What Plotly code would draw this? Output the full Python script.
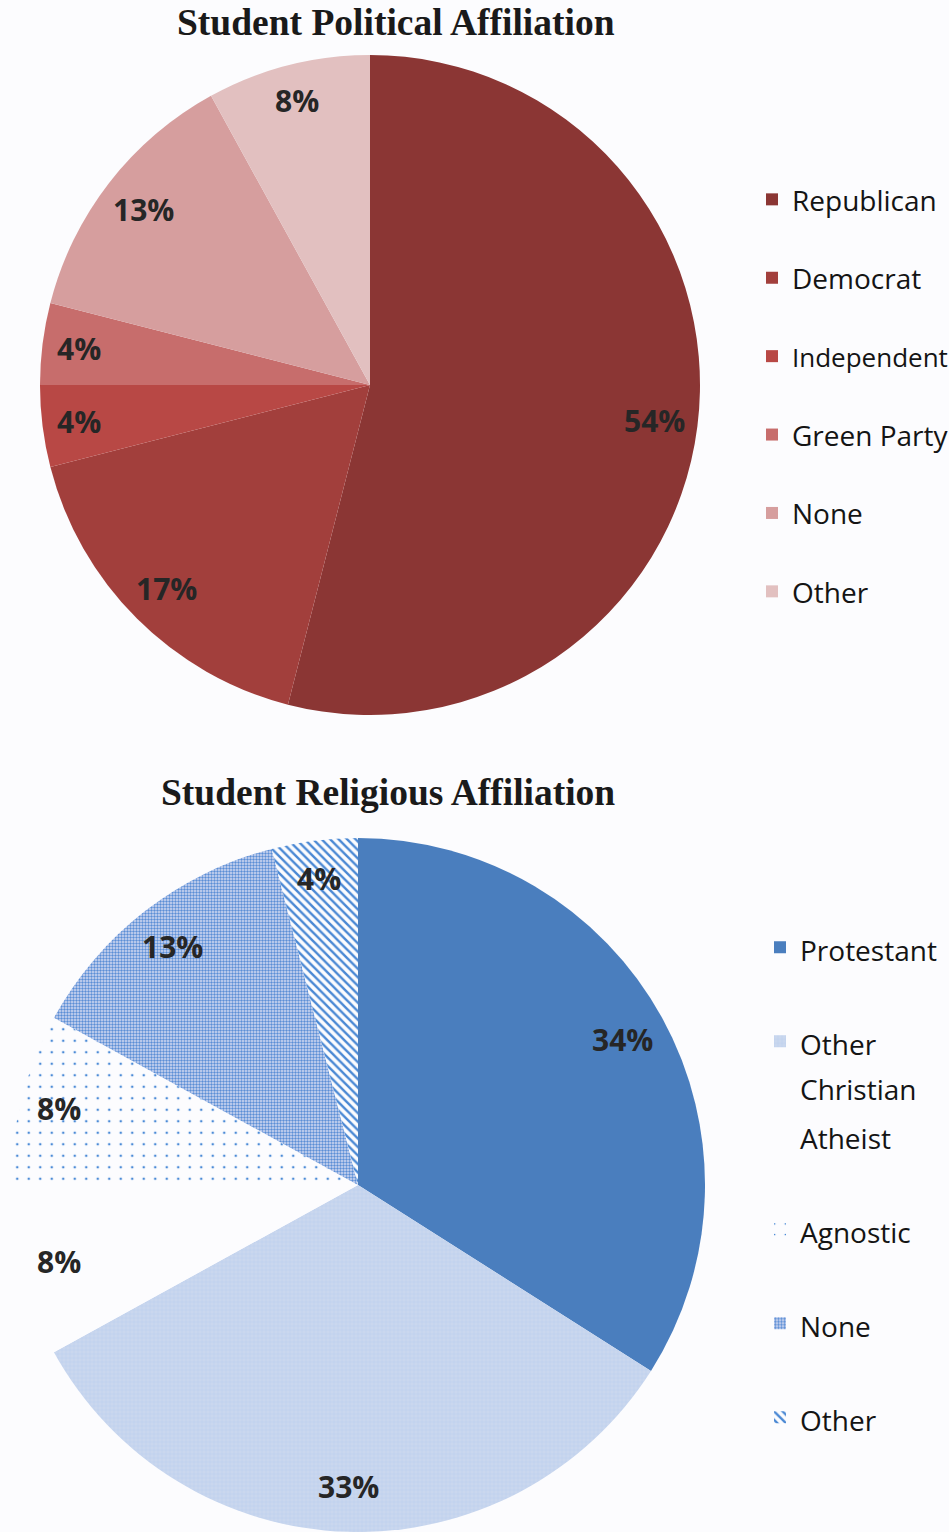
import math
import plotly.graph_objects as go

# Political affiliation of students (percent)
pol_labels = ["Republican", "Democrat", "Independent", "Green Party", "None", "Other"]
pol_values = [54, 17, 4, 4, 13, 8]
pol_colors = ["#8b3634", "#a23f3c", "#b84845", "#c76d6c", "#d69e9e", "#e2c0c0"]

# Religious affiliation of students (percent)
rel_labels = ["Protestant", "Other<br>Christian", "Atheist", "Agnostic", "None", "Other"]
rel_values = [34, 33, 8, 8, 13, 4]
rel_colors = ["#4a7ebe", "#cad7ee", "#fcfcfe", "#fcfcfe", "#8fabdf", "#fcfcfe"]

BG = "#fcfcfe"
W, H = 949, 1532

# pie placement in pixels: (left, right, top, bottom)
POL_BOX = (40, 700, 55, 715)
REL_BOX = (11, 705, 838, 1532)


def domain(box):
    l, r, t, b = box
    return dict(x=[l / W, r / W], y=[1 - b / H, 1 - t / H])


def legend_text(label, lines, size, cls):
    # each chart gets its own span class so that equal names ("None", "Other")
    # stay separate legend entries
    parts = label.split("<br>")
    parts += [" "] * (lines - len(parts))
    return "<br>".join(
        f"<span class='{cls}' style='font-size:{size}px'>{p}</span>" if p.strip() else " " for p in parts
    )


def percent_labels(values, box, frac=0.87):
    """Percent annotations placed along each slice's mid-angle (clockwise from 12 o'clock)."""
    l, r, t, b = box
    cx, cy = (l + r) / 2, (t + b) / 2
    rad = min(r - l, b - t) / 2
    total = sum(values)
    out, cum = [], 0
    for v in values:
        theta = 2 * math.pi * (cum + v / 2) / total
        cum += v
        f = frac + (0.02 if v / total < 0.1 else 0)
        x = cx + f * rad * math.sin(theta)
        y = cy - f * rad * math.cos(theta)
        out.append(dict(
            text=f"<b>{round(100 * v / total)}%</b>", x=x / W, y=1 - y / H,
            xref="paper", yref="paper", xanchor="center", yanchor="middle", showarrow=False,
            font=dict(family="Open Sans", size=30, color="#262626"),
        ))
    return out


fig = go.Figure()

# the longest name gets a slightly smaller size so it stays inside the figure
pol_legend = [legend_text(l, 2, 26 if l == "Independent" else 28, "pol") for l in pol_labels]

fig.add_trace(go.Pie(
    labels=pol_legend,
    values=pol_values,
    sort=False,
    direction="clockwise",
    rotation=0,
    marker=dict(colors=pol_colors, line=dict(width=0)),
    textinfo="none",
    domain=domain(POL_BOX),
    legend="legend",
    hoverinfo="skip",
))

fig.add_trace(go.Pie(
    labels=[legend_text(l, 2, 28, "rel") for l in rel_labels],
    values=rel_values,
    sort=False,
    direction="clockwise",
    rotation=0,
    marker=dict(
        colors=rel_colors,
        line=dict(width=0),
        pattern=dict(
            shape=["", "+", "", ".", ".", "\\"],
            fillmode="replace",
            bgcolor=["#4a7ebe", "#cad7ee", BG, BG, "#d6dcf2", BG],
            fgcolor=["#4a7ebe", "#bccdea", BG, "#4a8ad6", "#5b8ed6", "#4a88d4"],
            size=[8, 4, 8, 11.5, 3, 6],
            solidity=[0.5, 0.25, 0.5, 0.04, 0.5, 0.4],
        ),
    ),
    textinfo="none",
    domain=domain(REL_BOX),
    legend="legend2",
    hoverinfo="skip",
))

titles = [
    dict(text="<b>Student Political Affiliation</b>", x=396 / W, y=1 - 22 / H),
    dict(text="<b>Student Religious Affiliation</b>", x=388 / W, y=1 - 792 / H),
]
for t in titles:
    t.update(xref="paper", yref="paper", xanchor="center", yanchor="middle", showarrow=False,
             font=dict(family="Liberation Serif", size=37.5, color="#1a1a1a"))

fig.update_layout(
    width=W,
    height=H,
    margin=dict(l=0, r=0, t=0, b=0, autoexpand=False),
    paper_bgcolor=BG,
    plot_bgcolor=BG,
    legend=dict(
        x=752 / W, xanchor="left",
        y=1 - 174 / H, yanchor="top",
        valign="top",
        font=dict(family="Open Sans", size=29, color="#141414"),
        bgcolor="rgba(0,0,0,0)",
    ),
    legend2=dict(
        x=760 / W, xanchor="left",
        y=1 - 918 / H, yanchor="top",
        valign="top",
        font=dict(family="Open Sans", size=35, color="#141414"),
        bgcolor="rgba(0,0,0,0)",
    ),
    annotations=titles + percent_labels(pol_values, POL_BOX) + percent_labels(rel_values, REL_BOX),
)

fig.write_html("out.html")
